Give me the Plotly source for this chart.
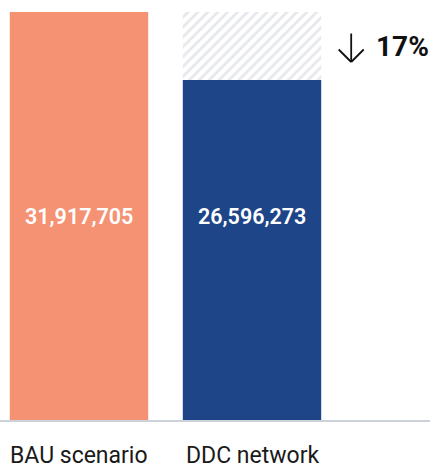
import plotly.graph_objects as go

# datos
categorias = ["BAU scenario", "DDC network"]
valores = [31917705, 26596273]
colores = ["#F69274", "#1D4588"]

bau, ddc = valores
reduccion = round((bau - ddc) / bau * 100)

FONT = "Roboto"

fig = go.Figure()

# barras principales
fig.add_trace(go.Bar(
    x=[0, 1], y=valores, width=0.8,
    marker=dict(color=colores, line=dict(width=0)),
    hoverinfo="skip",
))

# hueco rayado (lo ahorrado)
fig.add_trace(go.Bar(
    x=[1], y=[bau - ddc], base=[ddc], width=0.8,
    marker=dict(color="white", line=dict(width=0),
                pattern=dict(shape="/", fgcolor="#CDD1DA", bgcolor="white", size=7, solidity=0.4)),
    hoverinfo="skip",
))

# valores dentro de las barras
for i, v in enumerate(valores):
    fig.add_annotation(x=i, y=bau / 2, text=f"{v:,}", showarrow=False,
                       font=dict(family=FONT, size=21.5, color="white", weight=600))

# etiquetas de categoria
for i, c in enumerate(categorias):
    fig.add_annotation(x=i, y=0, yref="paper", yanchor="top", yshift=-20, text=c, showarrow=False,
                       font=dict(family=FONT, size=23, color="#1a1a1a"))

# flecha (asta + dos alas) + porcentaje
mid = (bau + ddc) / 2
for ax, ay in [(0, -30), (-14, -14), (14, -14)]:
    fig.add_annotation(x=1.4, y=mid, xshift=30, yshift=-16, ax=ax, ay=ay, text="",
                       showarrow=True, arrowhead=0, arrowwidth=1.8, arrowcolor="#111111", standoff=0)
fig.add_annotation(x=1.4, y=mid, xshift=53, xanchor="left", yanchor="middle", text=f"<b>{reduccion}%</b>",
                   showarrow=False, font=dict(family=FONT, size=28, color="#111111"))

fig.update_layout(
    width=430, height=468,
    margin=dict(l=0, r=0, t=12, b=48),
    paper_bgcolor="white", plot_bgcolor="white",
    barmode="overlay", showlegend=False,
    xaxis=dict(range=[-0.4566, 2.0289], showticklabels=False, showgrid=False, zeroline=False,
               showline=True, linecolor="#CDD1DA", linewidth=1.5, fixedrange=True),
    yaxis=dict(range=[0, bau], visible=False, fixedrange=True),
)

fig.write_html("out.html", config={"displayModeBar": False},
               post_script="document.body.style.margin='0';document.body.style.padding='0';")
